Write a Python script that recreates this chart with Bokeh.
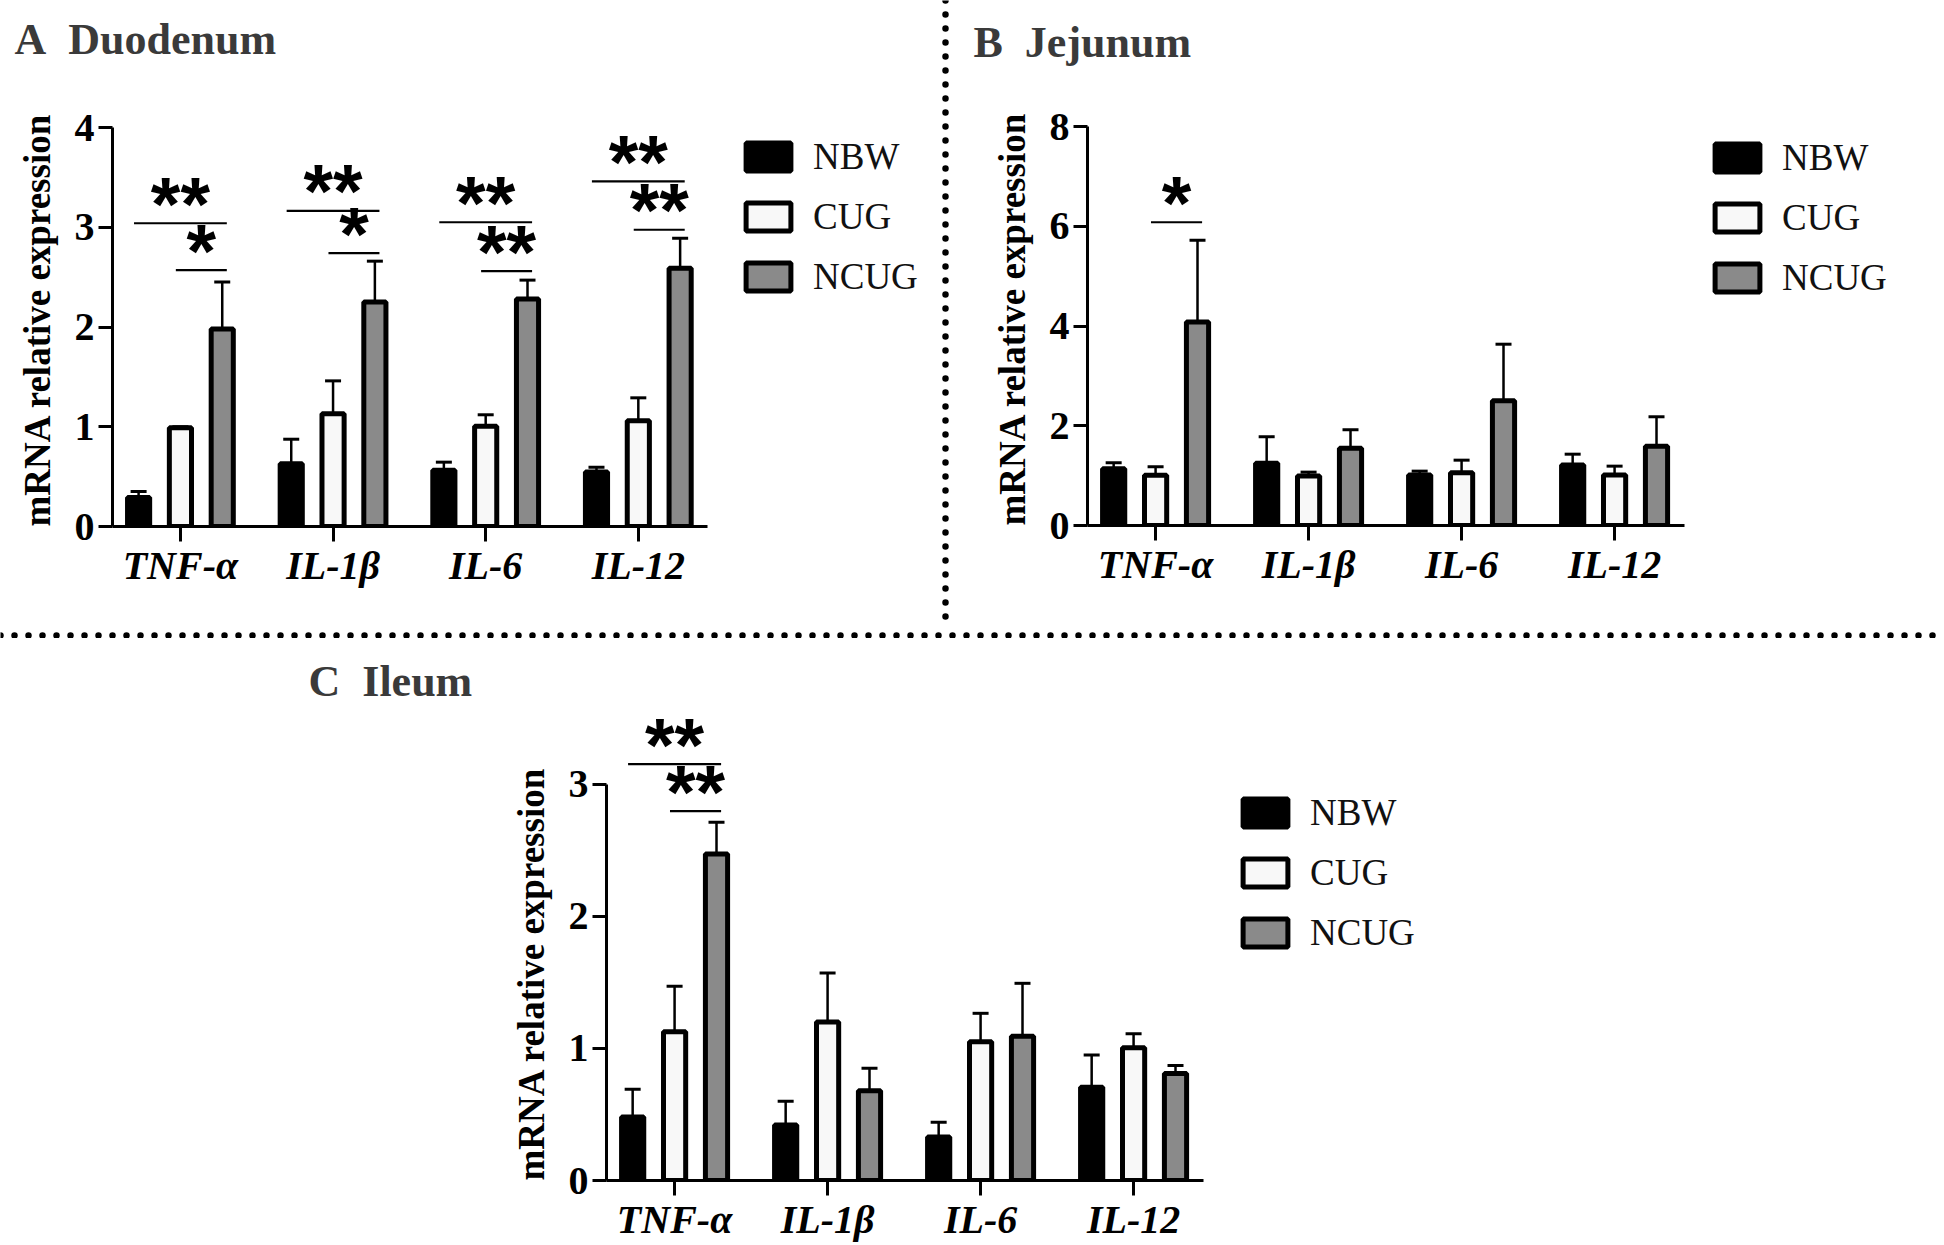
from bokeh.plotting import figure
from bokeh.models import (ColumnDataSource, Whisker, TeeHead, FixedTicker, Legend,
                          LegendItem, Span, Range1d, Title)
from bokeh.layouts import column, row
from bokeh.embed import file_html
from bokeh.resources import INLINE
from bokeh.core.properties import value

# ---------------- data ----------------
categories = ["TNF-α", "IL-1β", "IL-6", "IL-12"]
groups = ["NBW", "CUG", "NCUG"]

# Duodenum (mean, SD)
duo_nbw = [0.29, 0.63, 0.565, 0.546]
duo_nbw_sd = [0.06, 0.245, 0.08, 0.048]
duo_cug = [0.99, 1.13, 1.005, 1.06]
duo_cug_sd = [0.01, 0.33, 0.115, 0.23]
duo_ncug = [1.98, 2.25, 2.28, 2.59]
duo_ncug_sd = [0.47, 0.41, 0.19, 0.30]

# Jejunum
jej_nbw = [1.14, 1.25, 1.015, 1.215]
jej_nbw_sd = [0.12, 0.53, 0.075, 0.215]
jej_cug = [1.01, 0.99, 1.06, 1.015]
jej_cug_sd = [0.17, 0.08, 0.25, 0.175]
jej_ncug = [4.08, 1.55, 2.5, 1.59]
jej_ncug_sd = [1.64, 0.37, 1.135, 0.59]

# Ileum
ile_nbw = [0.48, 0.42, 0.33, 0.705]
ile_nbw_sd = [0.21, 0.18, 0.11, 0.245]
ile_cug = [1.125, 1.2, 1.05, 1.005]
ile_cug_sd = [0.345, 0.37, 0.215, 0.105]
ile_ncug = [2.47, 0.68, 1.092, 0.81]
ile_ncug_sd = [0.24, 0.17, 0.40, 0.06]

# significance brackets: category index, group from, group to, bracket height, label
duo_sig_cat = [0, 0, 1, 1, 2, 2, 3, 3]
duo_sig_from = [0, 1, 0, 1, 0, 1, 0, 1]
duo_sig_to = [2, 2, 2, 2, 2, 2, 2, 2]
duo_sig_y = [3.04, 2.57, 3.165, 2.74, 3.05, 2.56, 3.46, 2.975]
duo_sig_label = ["**", "*", "**", "*", "**", "**", "**", "**"]

jej_sig_cat = [0]
jej_sig_from = [1]
jej_sig_to = [2]
jej_sig_y = [6.08]
jej_sig_label = ["*"]

ile_sig_cat = [0, 0]
ile_sig_from = [0, 1]
ile_sig_to = [2, 2]
ile_sig_y = [3.15, 2.795]
ile_sig_label = ["**", "**"]

duo_yticks = [0, 1, 2, 3, 4]
jej_yticks = [0, 2, 4, 6, 8]
ile_yticks = [0, 1, 2, 3]

y_title = "mRNA relative expression"

# ---------------- style / geometry ----------------
CAT_PX = 153.0
AXIS_PX = 399.0
X_START = -0.445
X_AXIS_END = 3.455
GROUP_OFFSETS = [-0.274, 0.0, 0.274]
BAR_W = 0.145
FILLS = ["#000000", "#f8f8f8", "#8a8a8a"]
SERIF = "Liberation Serif"


def make_panel(title_text, means, sds, sig, yticks, width, height, b_left,
               b_bottom, b_top, title_offset, legend_xy, x_standoff):
    frame_w = width - b_left
    frame_h = height - b_bottom - b_top
    ymax = yticks[-1]
    y_end = frame_h / (AXIS_PX / ymax)
    x_end = X_START + frame_w / CAT_PX
    p = figure(width=width, height=height,
               x_range=Range1d(X_START, x_end), y_range=Range1d(0, y_end),
               output_backend="svg", toolbar_location=None,
               min_border_left=b_left, min_border_bottom=b_bottom,
               min_border_top=b_top, min_border_right=0,
               outline_line_color=None, title=title_text, frame_align=False)
    p.grid.visible = False

    p.title.align = "left"
    p.title.offset = title_offset
    p.title.standoff = 0
    p.title.text_font = SERIF
    p.title.text_font_style = "bold"
    p.title.text_font_size = "44px"
    p.title.text_color = "#3a3a3a"

    renderers = []
    n = len(categories)
    for g in range(len(groups)):
        xs = [i + GROUP_OFFSETS[g] for i in range(n)]
        upper = [m + s for m, s in zip(means[g], sds[g])]
        src = ColumnDataSource(dict(x=xs, top=means[g], lower=means[g], upper=upper))
        w = Whisker(base="x", lower="lower", upper="upper", source=src,
                    dimension="height", line_width=2.5, line_color="black",
                    upper_head=TeeHead(size=16, line_width=3, line_color="black"),
                    lower_head=None)
        p.add_layout(w)
        r = p.vbar(x="x", top="top", bottom=0, width=BAR_W, source=src,
                   fill_color=FILLS[g], line_color="black", line_width=5)
        renderers.append(r)

    # significance brackets
    cat, frm, to, ys, labels = sig
    x0 = [c + GROUP_OFFSETS[a] - 0.03 for c, a in zip(cat, frm)]
    x1 = [c + GROUP_OFFSETS[b] + 0.03 for c, b in zip(cat, to)]
    xm = [(a + b) / 2 for a, b in zip(x0, x1)]
    p.segment(x0=x0, y0=ys, x1=x1, y1=ys, line_width=2.2, line_color="black")
    p.text(x=xm, y=ys, text=labels, text_align="center", text_baseline="alphabetic",
           y_offset=-20, text_font=value("Liberation Sans"), text_font_style="bold",
           text_font_size="76px", text_color="black")

    legend = Legend(items=[LegendItem(label=groups[g], renderers=[renderers[g]])
                           for g in range(len(groups))],
                    location=legend_xy, glyph_width=56, glyph_height=35,
                    label_text_font=SERIF, label_text_font_size="37px",
                    label_text_color="#111111", label_standoff=17, spacing=17,
                    padding=0, margin=0, border_line_color=None,
                    background_fill_alpha=0)
    p.add_layout(legend)

    xa = p.xaxis[0]
    xa.bounds = (X_START, X_AXIS_END)
    xa.ticker = FixedTicker(ticks=list(range(n)))
    xa.major_label_overrides = {i: c for i, c in enumerate(categories)}
    xa.major_label_text_font = SERIF
    xa.major_label_text_font_style = "bold italic"
    xa.major_label_text_font_size = "40px"
    xa.major_label_text_color = "black"
    xa.major_label_standoff = x_standoff
    xa.major_tick_out = 15
    xa.major_tick_in = 0
    xa.minor_tick_out = 0
    xa.minor_tick_in = 0
    xa.major_tick_line_width = 3
    xa.axis_line_width = 3

    ya = p.yaxis[0]
    ya.bounds = (0, ymax)
    ya.ticker = FixedTicker(ticks=yticks)
    ya.major_label_text_font = SERIF
    ya.major_label_text_font_style = "bold"
    ya.major_label_text_font_size = "40px"
    ya.major_label_text_color = "black"
    ya.major_label_standoff = 4
    ya.major_tick_out = 14
    ya.major_tick_in = 0
    ya.minor_tick_out = 0
    ya.minor_tick_in = 0
    ya.major_tick_line_width = 3
    ya.axis_line_width = 3

    # y-axis title, anchored at the bottom of the axis (like the original)
    ylab = Title(text=y_title, align="left", offset=0, standoff=28,
                 text_font=SERIF, text_font_style="bold", text_font_size="37px",
                 text_color="black")
    p.add_layout(ylab, "left")
    return p


def separator(w, h, dim):
    s = figure(width=w, height=h, x_range=Range1d(0, 1), y_range=Range1d(0, 1),
               x_axis_type=None, y_axis_type=None, toolbar_location=None,
               outline_line_color=None, min_border=0, output_backend="svg",
               frame_align=False)
    s.add_layout(Span(location=0.5, dimension=dim, line_color="black",
                      line_width=6.5, line_dash="0 14", line_cap="round"))
    return s


pA = make_panel("A\u00a0\u00a0Duodenum",
                [duo_nbw, duo_cug, duo_ncug], [duo_nbw_sd, duo_cug_sd, duo_ncug_sd],
                (duo_sig_cat, duo_sig_from, duo_sig_to, duo_sig_y, duo_sig_label),
                duo_yticks, 940, 628, 110, 102, 63, -98, (628, 228), 1)
pB = make_panel("B\u00a0\u00a0Jejunum",
                [jej_nbw, jej_cug, jej_ncug], [jej_nbw_sd, jej_cug_sd, jej_ncug_sd],
                (jej_sig_cat, jej_sig_from, jej_sig_to, jej_sig_y, jej_sig_label),
                jej_yticks, 994, 628, 137, 103, 66, -114, (622, 226), 1)
pC = make_panel("C\u00a0\u00a0Ileum",
                [ile_nbw, ile_cug, ile_ncug], [ile_nbw_sd, ile_cug_sd, ile_ncug_sd],
                (ile_sig_cat, ile_sig_from, ile_sig_to, ile_sig_y, ile_sig_label),
                ile_yticks, 1944, 606, 606, 61, 67, -298, (631, 226), 1)

sepV = separator(10, 628, "height")
sepH = separator(1944, 10, "width")

layout = column(row(pA, sepV, pB), sepH, pC)
open("out.html", "w").write(file_html(layout, INLINE))
